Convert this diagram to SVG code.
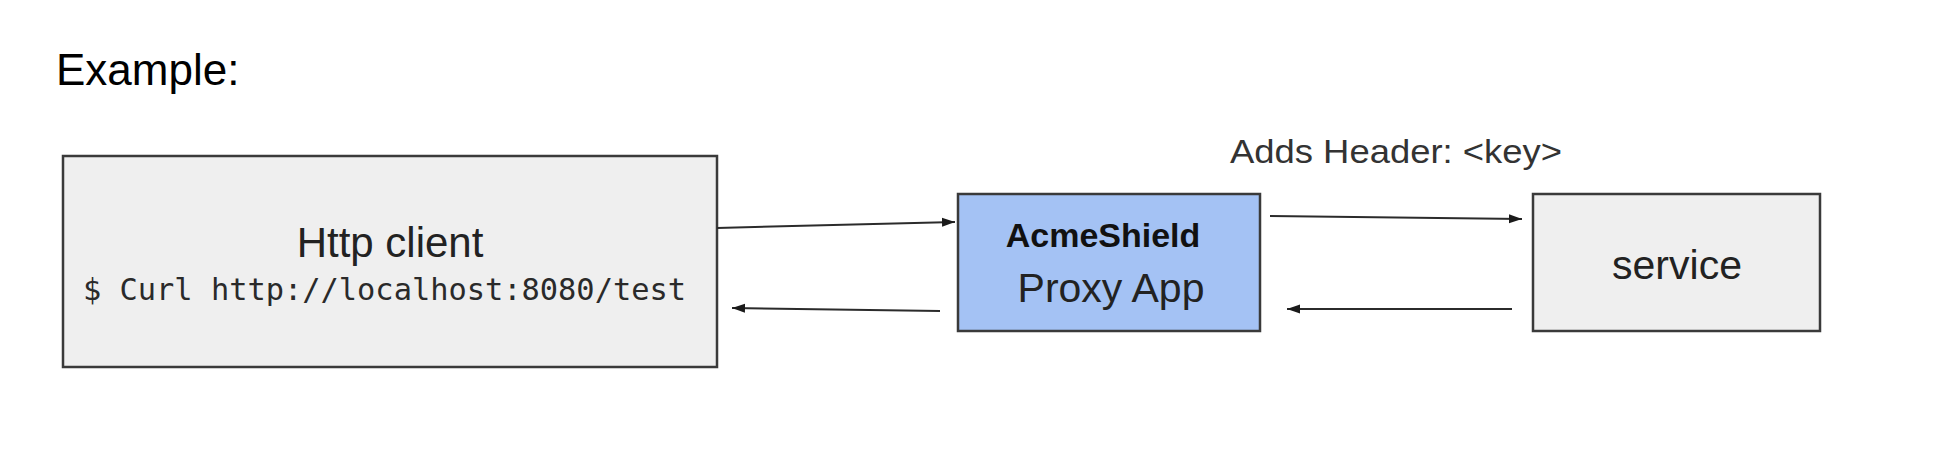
<svg xmlns="http://www.w3.org/2000/svg" width="1938" height="466" viewBox="0 0 1938 466">
  <style>
    .sans { font-family: "Liberation Sans", Arial, sans-serif; }
    .mono { font-family: "DejaVu Sans Mono", "Liberation Mono", monospace; }
    .box { stroke: #3a3a3a; stroke-width: 2.5; }
    .gray { fill: #efefef; }
    .blue { fill: #a4c2f4; }
    .conn { stroke: #2b2b2b; stroke-width: 2; fill: none; marker-end: url(#arrow); }
  </style>
  <defs>
    <marker id="arrow" markerUnits="userSpaceOnUse" markerWidth="15" markerHeight="11" refX="13" refY="5.5" orient="auto">
      <path d="M0,1 L13,5.5 L0,10 z" fill="#1a1a1a"/>
    </marker>
  </defs>
  <rect width="1938" height="466" fill="#ffffff"/>
  <text id="title" class="sans" x="56" y="85" font-size="44" fill="#000">Example:</text>

  <g id="http-client">
    <rect class="box gray" x="63" y="156" width="654" height="211"/>
    <text class="sans" x="390" y="257" font-size="42" fill="#222" text-anchor="middle">Http client</text>
    <text class="mono" x="83" y="300" font-size="31" fill="#2a2a2a" textLength="603" lengthAdjust="spacingAndGlyphs">$ Curl http://localhost:8080/test</text>
  </g>

  <g id="proxy">
    <rect class="box blue" x="958" y="194" width="302" height="137"/>
    <text class="sans" x="1103" y="247" font-size="34" font-weight="bold" fill="#111" text-anchor="middle">AcmeShield</text>
    <text class="sans" x="1111" y="302" font-size="41" fill="#222" text-anchor="middle">Proxy App</text>
  </g>

  <g id="service">
    <rect class="box gray" x="1533" y="194" width="287" height="137"/>
    <text class="sans" x="1677" y="279" font-size="41" fill="#222" text-anchor="middle">service</text>
  </g>

  <g id="connectors">
    <line class="conn" x1="717" y1="228" x2="955" y2="222"/>
    <line class="conn" x1="940" y1="311" x2="732" y2="308"/>
    <line class="conn" x1="1270" y1="216" x2="1522" y2="219"/>
    <line class="conn" x1="1512" y1="309" x2="1287" y2="309"/>
    <text class="sans" x="1230" y="163" font-size="33" fill="#333" textLength="332" lengthAdjust="spacingAndGlyphs">Adds Header: &lt;key&gt;</text>
  </g>
</svg>
